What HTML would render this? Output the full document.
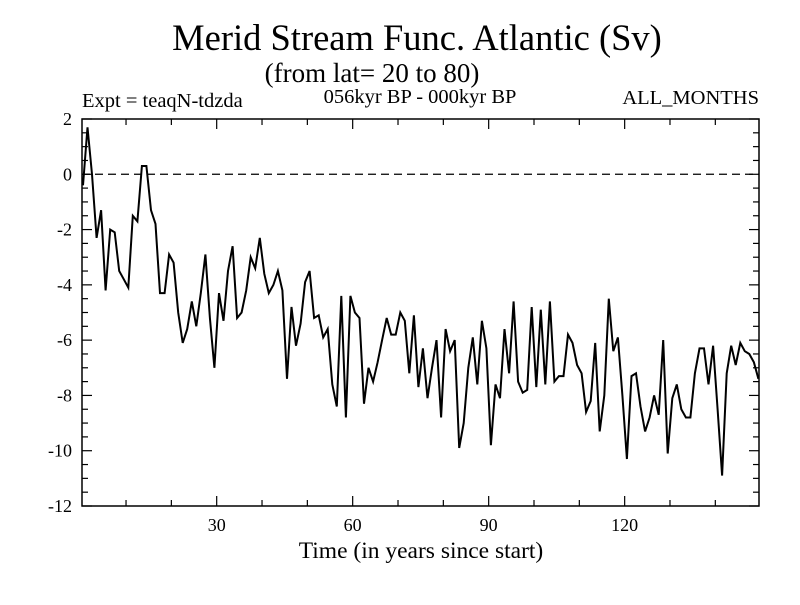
<!DOCTYPE html>
<html><head><meta charset="utf-8"><style>
body{margin:0;background:#fff;}
svg text{font-family:"Liberation Serif",serif;fill:#000;}
</style></head><body>
<svg id="chart" width="800" height="600" xmlns="http://www.w3.org/2000/svg">
<rect width="800" height="600" fill="#fff"/>
<text x="417" y="50" font-size="36.5" text-anchor="middle">Merid Stream Func. Atlantic (Sv)</text>
<text x="372" y="82" font-size="27" text-anchor="middle">(from lat= 20 to 80)</text>
<text x="82" y="107" font-size="20.5">Expt = teaqN-tdzda</text>
<text x="420" y="103" font-size="20.5" text-anchor="middle">056kyr BP - 000kyr BP</text>
<text x="759" y="104" font-size="20.5" text-anchor="end">ALL_MONTHS</text>
<text x="421" y="558" font-size="23.5" text-anchor="middle">Time (in years since start)</text>
<g id="axes"></g>
<g id="plot"></g>
</svg>
<script>
const yTicks=[2,0,-2,-4,-6,-8,-10,-12];
const xTicks=[30,60,90,120];
const values=[-0.4,1.7,0,-2.3,-1.3,-4.2,-2.0,-2.1,-3.5,-3.8,-4.1,-1.5,-1.7,0.3,0.3,-1.3,-1.8,-4.3,-4.3,-2.9,-3.2,-5.0,-6.1,-5.6,-4.6,-5.5,-4.3,-2.9,-5.2,-7.0,-4.3,-5.3,-3.5,-2.6,-5.2,-5.0,-4.2,-3.0,-3.4,-2.3,-3.6,-4.3,-4.0,-3.5,-4.2,-7.4,-4.8,-6.2,-5.4,-3.9,-3.5,-5.2,-5.1,-5.9,-5.6,-7.6,-8.4,-4.4,-8.8,-4.4,-5.0,-5.2,-8.3,-7.0,-7.5,-6.8,-6.0,-5.2,-5.8,-5.8,-5.0,-5.3,-7.2,-5.1,-7.7,-6.3,-8.1,-7.0,-6.0,-8.8,-5.6,-6.4,-6.0,-9.9,-9.0,-7.0,-5.9,-7.6,-5.3,-6.3,-9.8,-7.6,-8.1,-5.6,-7.2,-4.6,-7.5,-7.9,-7.8,-4.8,-7.7,-4.9,-7.6,-4.6,-7.5,-7.3,-7.3,-5.8,-6.1,-6.9,-7.2,-8.6,-8.2,-6.1,-9.3,-8.0,-4.5,-6.4,-5.9,-8.0,-10.3,-7.3,-7.2,-8.4,-9.3,-8.8,-8.0,-8.7,-6.0,-10.1,-8.1,-7.6,-8.5,-8.8,-8.8,-7.2,-6.3,-6.3,-7.6,-6.2,-8.5,-10.9,-7.2,-6.2,-6.9,-6.1,-6.4,-6.5,-6.8,-7.4];
const L=82,R=759,T=119,B=506;
const X0=80.7,XS=4.533;
function xs(t){return X0+t*XS;}
function ys(v){return T+(2-v)*(B-T)/14;}
const NS="http://www.w3.org/2000/svg";
const axes=document.getElementById('axes'),plot=document.getElementById('plot');
function mk(tag,attrs,parent){const e=document.createElementNS(NS,tag);for(const k in attrs)e.setAttribute(k,attrs[k]);parent.appendChild(e);return e;}
const frame=mk('rect',{x:L,y:T,width:R-L,height:B-T,fill:'none',stroke:'#000','stroke-width':1.5},axes);


for(let v=-12;v<=2.001;v+=0.5){
  const y=ys(v);const major=Math.abs(v%2)<1e-6;const len=major?10:6;
  const t1=mk('line',{x1:L,x2:L+len,y1:y,y2:y,stroke:'#000','stroke-width':1.2},axes);
  
  
  const t2=mk('line',{x1:R,x2:R-len,y1:y,y2:y,stroke:'#000','stroke-width':1.2},axes);
  
  
}
yTicks.forEach(v=>{
  const t=mk('text',{x:L-10,y:ys(v)+6,'font-size':18,'text-anchor':'end'},axes);
  t.textContent=v;
  
  
});
for(let yr=10;yr<150;yr+=10){
  const x=xs(yr);const major=yr%30===0;const len=major?10:6;
  const a=mk('line',{x1:x,x2:x,y1:B,y2:B-len,stroke:'#000','stroke-width':1.2},axes);
  
  
  const b=mk('line',{x1:x,x2:x,y1:T,y2:T+len,stroke:'#000','stroke-width':1.2},axes);
  
  
}
xTicks.forEach(v=>{
  const t=mk('text',{x:xs(v),y:B+25,'font-size':18,'text-anchor':'middle'},axes);
  t.textContent=v;
  
  
});
const zl=mk('line',{x1:L,x2:R,y1:ys(0),y2:ys(0),stroke:'#000','stroke-width':1.2,'stroke-dasharray':'8,5'},plot);


const pts=values.map((v,i)=>xs(i+0.5).toFixed(1)+','+ys(v).toFixed(1)).join(' ');
const line=mk('polyline',{points:pts,fill:'none',stroke:'#000','stroke-width':2,'stroke-linejoin':'miter'},plot);


</script>
</body></html>
